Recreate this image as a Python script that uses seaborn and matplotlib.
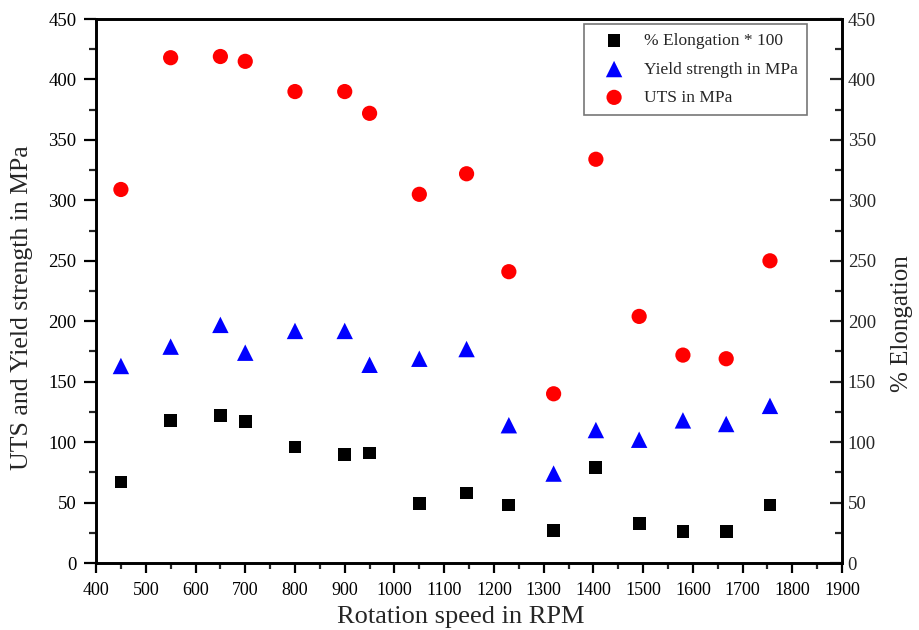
import matplotlib
matplotlib.use("Agg")
import matplotlib.pyplot as plt
import seaborn as sns
import pandas as pd
from matplotlib.ticker import MultipleLocator

rpm = [450, 550, 650, 700, 800, 900, 950, 1050, 1145, 1230, 1320, 1405, 1492, 1580, 1667, 1755]
uts = [309, 418, 419, 415, 390, 390, 372, 305, 322, 241, 140, 334, 204, 172, 169, 250]
yield_strength = [163, 179, 197, 174, 192, 192, 164, 169, 177, 114, 74, 110, 102, 118, 115, 130]
elongation = [67, 118, 122, 117, 96, 90, 91, 49, 58, 48, 27, 79, 33, 26, 26, 48]

df = pd.DataFrame({"rpm": rpm, "uts": uts, "ys": yield_strength, "el": elongation})

sns.set_theme(style="ticks")
plt.rcParams["font.family"] = ["Liberation Serif", "DejaVu Serif"]

fig = plt.figure(figsize=(9.19, 6.30), dpi=100)
ax = fig.add_axes([0.1045, 0.1063, 0.8118, 0.8635])

sns.scatterplot(data=df, x="rpm", y="el", marker="s", color="black", s=85,
                edgecolor="none", label="% Elongation * 100", ax=ax)
sns.scatterplot(data=df, x="rpm", y="ys", marker="^", color="blue", s=140,
                edgecolor="none", label="Yield strength in MPa", ax=ax)
sns.scatterplot(data=df, x="rpm", y="uts", marker="o", color="red", s=120,
                edgecolor="none", label="UTS in MPa", ax=ax)

ax.set_xlim(400, 1900)
ax.set_ylim(0, 450)
ax.xaxis.set_major_locator(MultipleLocator(100))
ax.xaxis.set_minor_locator(MultipleLocator(50))
ax.yaxis.set_major_locator(MultipleLocator(50))
ax.yaxis.set_minor_locator(MultipleLocator(25))
ax.tick_params(axis="x", which="major", direction="out", length=7, width=1.6,
               labelsize=13, pad=7, colors="black")
ax.tick_params(axis="x", which="minor", direction="out", length=4.5, width=1.6)
ax.tick_params(axis="y", which="major", direction="out", length=9, width=1.6,
               labelsize=13.5, pad=5, colors="black")
ax.tick_params(axis="y", which="minor", direction="out", length=5, width=1.6)
ax.tick_params(axis="x", top=False)
ax.set_xlabel("Rotation speed in RPM", fontsize=19)
ax.set_ylabel("UTS and Yield strength in MPa", fontsize=18.5)
ax.xaxis.set_label_coords(0.489, -0.079)
ax.yaxis.set_label_coords(-0.0845, 0.47)
for sp in ax.spines.values():
    sp.set_linewidth(1.9)
    sp.set_color("black")
    sp.set_visible(True)

ax2 = ax.twinx()
ax2.set_ylim(0, 450)
ax2.yaxis.set_major_locator(MultipleLocator(50))
ax2.yaxis.set_minor_locator(MultipleLocator(25))
ax2.tick_params(axis="y", which="major", direction="in", length=9, width=1.6,
                labelsize=13.5, pad=4)
ax2.tick_params(axis="y", which="minor", direction="in", length=5, width=1.6)
ax2.set_ylabel("% Elongation", fontsize=18)
ax2.yaxis.set_label_coords(1.066, 0.44)
for sp in ax2.spines.values():
    sp.set_linewidth(1.9)
    sp.set_color("black")

leg = ax.legend(loc="upper right", bbox_to_anchor=(0.953, 0.99), fontsize=12.5,
                frameon=True, fancybox=False, edgecolor="#555555",
                handlelength=2.5, handletextpad=0.5, borderpad=0.5,
                labelspacing=0.7, borderaxespad=0)
leg.get_frame().set_linewidth(1.2)

fig.savefig("out.png", dpi=100)
